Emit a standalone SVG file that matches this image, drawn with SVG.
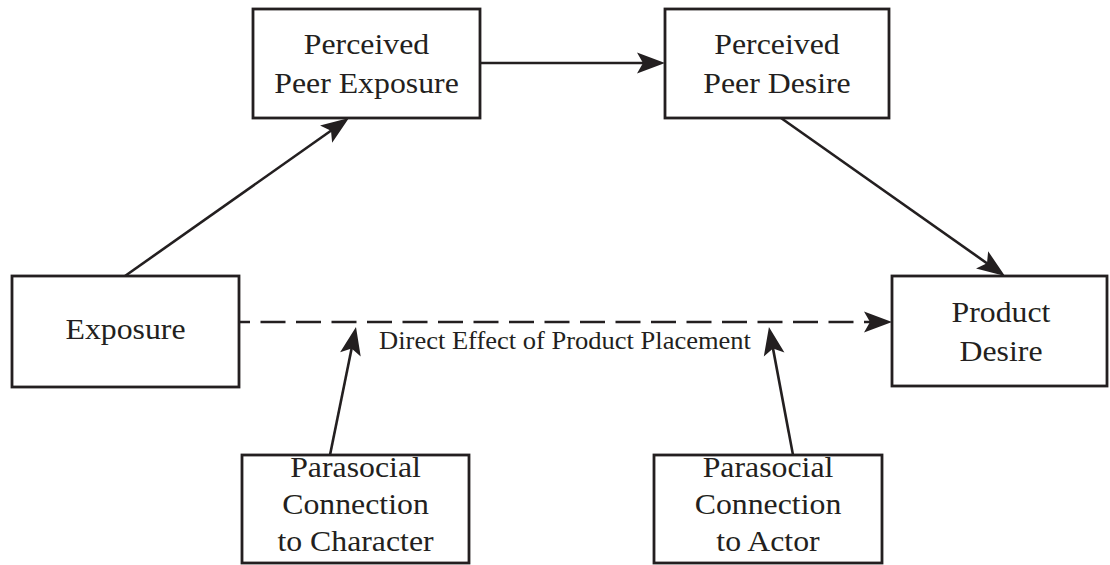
<svg xmlns="http://www.w3.org/2000/svg" width="1110" height="565" viewBox="0 0 1110 565">
  <defs>
    <!-- filled, slightly notched arrowhead; its tip sits 10px past the line end -->
    <marker id="head" markerUnits="userSpaceOnUse" markerWidth="40" markerHeight="30" viewBox="-20 -15 40 30" refX="0" refY="0" orient="auto" overflow="visible">
      <path d="M10,0 L-18,-10.5 L-12,0 L-18,10.5 Z" fill="#231f20"/>
    </marker>
  </defs>
  <style>
    .box { fill: #ffffff; stroke: #231f20; stroke-width: 2.8; }
    .t { font-family: "Liberation Serif", "Times New Roman", serif; font-size: 30px; text-anchor: middle; fill: #231f20; }
    .lbl { font-family: "Liberation Serif", "Times New Roman", serif; font-size: 25.5px; text-anchor: middle; fill: #231f20; }
    .edge { fill: none; stroke: #231f20; stroke-width: 2.6; marker-end: url(#head); }
    .dash { stroke-dasharray: 25 10.5; stroke-dashoffset: 14; }
  </style>
  <rect width="1110" height="565" fill="#ffffff"/>

  <g id="connectors">
    <line class="edge" x1="125" y1="276" x2="340.8" y2="123.8"/>
    <line class="edge" x1="480" y1="63" x2="655" y2="63"/>
    <line class="edge" x1="781" y1="118" x2="996.8" y2="270.2"/>
    <line class="edge dash" x1="239" y1="322" x2="882" y2="322"/>
    <line class="edge" x1="330" y1="455" x2="354" y2="336.8"/>
    <line class="edge" x1="793" y1="455" x2="770.8" y2="336.8"/>
    <text class="lbl" transform="translate(565,0) scale(1.04,1)"><tspan x="0" y="349">Direct Effect of Product Placement</tspan></text>
  </g>

  <g id="perceived-peer-exposure">
    <rect class="box" x="253" y="9" width="227" height="109"/>
    <text class="t" transform="translate(366.5,0) scale(1.06,1)"><tspan x="0" y="54">Perceived</tspan><tspan x="0" y="93">Peer Exposure</tspan></text>
  </g>

  <g id="perceived-peer-desire">
    <rect class="box" x="665" y="9" width="224" height="109"/>
    <text class="t" transform="translate(777,0) scale(1.06,1)"><tspan x="0" y="54">Perceived</tspan><tspan x="0" y="93">Peer Desire</tspan></text>
  </g>

  <g id="exposure">
    <rect class="box" x="12" y="276" width="227" height="111"/>
    <text class="t" transform="translate(125.5,0) scale(1.06,1)"><tspan x="0" y="339">Exposure</tspan></text>
  </g>

  <g id="product-desire">
    <rect class="box" x="892" y="276" width="215" height="110"/>
    <text class="t" transform="translate(1001,0) scale(1.06,1)"><tspan x="0" y="322">Product</tspan><tspan x="0" y="361">Desire</tspan></text>
  </g>

  <g id="parasocial-character">
    <rect class="box" x="242" y="455" width="227" height="108"/>
    <text class="t" transform="translate(355.5,0) scale(1.06,1)"><tspan x="0" y="477">Parasocial</tspan><tspan x="0" y="514">Connection</tspan><tspan x="0" y="551">to Character</tspan></text>
  </g>

  <g id="parasocial-actor">
    <rect class="box" x="654" y="455" width="228" height="108"/>
    <text class="t" transform="translate(768,0) scale(1.06,1)"><tspan x="0" y="477">Parasocial</tspan><tspan x="0" y="514">Connection</tspan><tspan x="0" y="551">to Actor</tspan></text>
  </g>
</svg>
